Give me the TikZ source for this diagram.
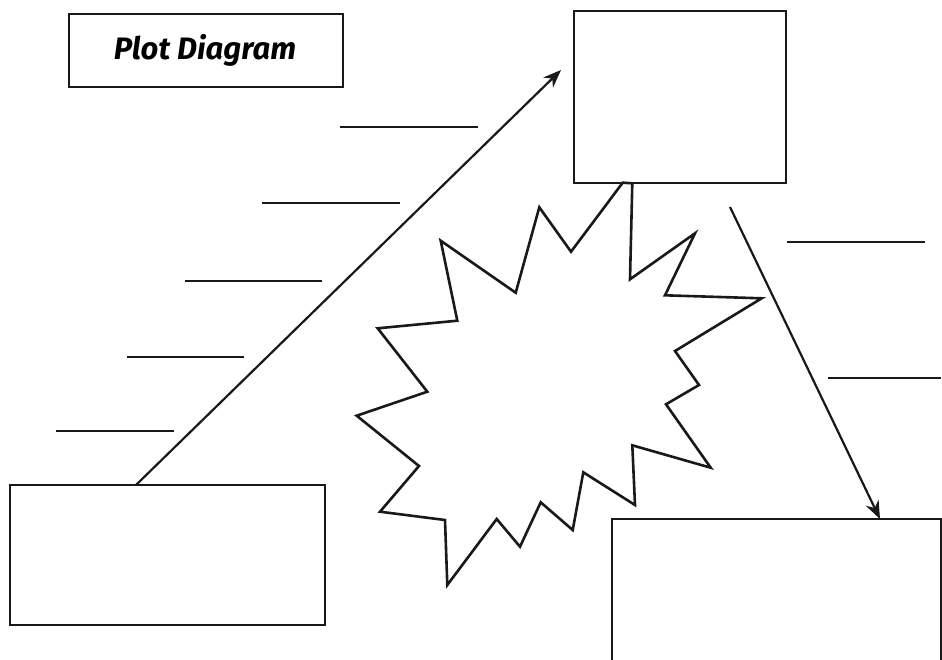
\documentclass[tikz,border=0pt]{standalone}
\usepackage{fontspec}
\setmainfont{Fira Sans}
\usetikzlibrary{arrows.meta}
\tikzset{
  ln/.style={line width=2.6pt, draw=black!90},
  box/.style={ln, fill=white},
  blank/.style={line width=2.2pt, draw=black!90},
  arr/.style={line width=2.2pt, draw=black!90, -{Stealth[length=18pt,width=14pt]}},
}
\begin{document}
\begin{tikzpicture}[x=1pt,y=-1pt]
\useasboundingbox (0,0) rectangle (942,659);
% title
\draw[box] (69,14) rectangle (343,87);
\node (title) at (205,50.5) {\fontsize{31}{34}\selectfont\bfseries\itshape Plot Diagram};
% boxes
\draw[box] (574,11) rectangle (786,183);
\draw[box] (10,485) rectangle (325,625);
\draw[box] (612,519) rectangle (941,664);
% starburst
\draw[ln, line join=miter] (539.3,207.3) -- (571,251.7) -- (622.7,182.7) -- (632.3,183.3) -- (630,279.3) -- (695,233.3) -- (665,295.3) -- (761.7,298.3) -- (675,351) -- (699,385) -- (666,404.3) -- (710.7,467.7) -- (632.3,445.3) -- (635,505) -- (583.3,472.3) -- (572.7,530) -- (540.7,502.3) -- (520,546.7) -- (496.7,519) -- (447.3,585) -- (445,520) -- (380,511.7) -- (419,466) -- (356.7,415.7) -- (427.3,391.7) -- (377.7,328.3) -- (457.3,320.7) -- (440.7,240.7) -- (515.7,292.7) -- cycle;
% blank lines
\coordinate (b1a) at (340,127); \coordinate (b1b) at (478,127);
\coordinate (b2a) at (262,203); \coordinate (b2b) at (400,203);
\coordinate (b3a) at (185,281); \coordinate (b3b) at (322,281);
\coordinate (b4a) at (127,357); \coordinate (b4b) at (244,357);
\coordinate (b5a) at (56,431);  \coordinate (b5b) at (174,431);
\coordinate (b6a) at (787,242); \coordinate (b6b) at (925,242);
\coordinate (b7a) at (828,378); \coordinate (b7b) at (941,378);
\draw[blank] (b1a) -- (b1b);
\draw[blank] (b2a) -- (b2b);
\draw[blank] (b3a) -- (b3b);
\draw[blank] (b4a) -- (b4b);
\draw[blank] (b5a) -- (b5b);
\draw[blank] (b6a) -- (b6b);
\draw[blank] (b7a) -- (b7b);
% arrows
\coordinate (a1s) at (136,485); \coordinate (a1e) at (561,70);
\coordinate (a2s) at (730,207); \coordinate (a2e) at (880,519);
\draw[arr] (a1s) -- (a1e);
\draw[arr] (a2s) -- (a2e);
\end{tikzpicture}
\end{document}
